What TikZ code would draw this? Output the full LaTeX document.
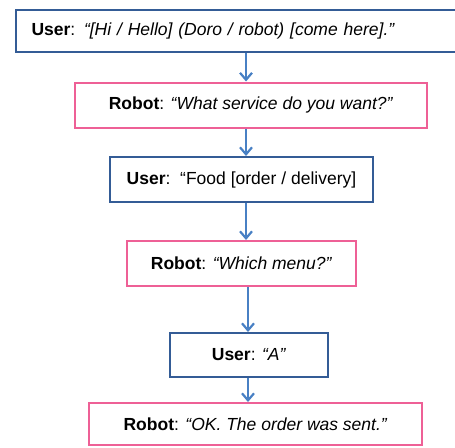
\documentclass[tikz,border=0pt]{standalone}
\usepackage{fontspec}
\setmainfont{Liberation Sans}
\usetikzlibrary{arrows.meta}

\definecolor{userblue}{RGB}{52,92,150}
\definecolor{robotpink}{RGB}{238,96,150}
\definecolor{flowblue}{RGB}{72,128,196}

\tikzset{
    userbox/.style={draw=userblue,line width=2pt,inner sep=0pt,font=\fontsize{17.5}{20}\selectfont},
    robotbox/.style={draw=robotpink,line width=2pt,inner sep=0pt,font=\fontsize{17.5}{20}\selectfont},
    flow/.style={flowblue,line width=2pt,-{Straight Barb[length=7pt,width=12pt,line width=2.2pt]}}
}

\begin{document}
\begin{tikzpicture}[x=1pt,y=-1pt]

    \useasboundingbox (0,0) rectangle (455,447);

    \coordinate (spine) at (246,0);

    \node[userbox,minimum width=442pt,minimum height=42pt,text width=410pt,align=left] (user1) at (236.5,31)
        {\textbf{User}: \textit{“[Hi / Hello] (Doro / robot) [come here].”}};
    \node[robotbox,minimum width=352pt,minimum height=45pt] (robot1) at (251,105)
        {\textbf{Robot}: \textit{“What service do you want?”}};
    \node[userbox,minimum width=263pt,minimum height=45pt] (user2) at (241.5,179.5)
        {\textbf{User}:\ \ “Food [order / delivery]};
    \node[robotbox,minimum width=229pt,minimum height=45pt] (robot2) at (241.5,263.5)
        {\textbf{Robot}: \textit{“Which menu?”}};
    \node[userbox,minimum width=158pt,minimum height=44pt] (user3) at (249,355)
        {\textbf{User}: \textit{“A”}};
    \node[robotbox,minimum width=333pt,minimum height=42pt] (robot3) at (255.5,424)
        {\textbf{Robot}: \textit{“OK. The order was sent.”}};

    % arrows down the middle
    \draw[flow] (user1.south -| spine) -- (robot1.north -| spine);
    \draw[flow] (robot1.south -| spine) -- (user2.north -| spine);
    \draw[flow] (user2.south -| spine) -- (robot2.north -| spine);
    \draw[flow] ([xshift=2pt]robot2.south -| spine) -- ([xshift=2pt]user3.north -| spine);
    \draw[flow] ([xshift=2pt]user3.south -| spine) -- ([xshift=2pt]robot3.north -| spine);

\end{tikzpicture}
\end{document}
